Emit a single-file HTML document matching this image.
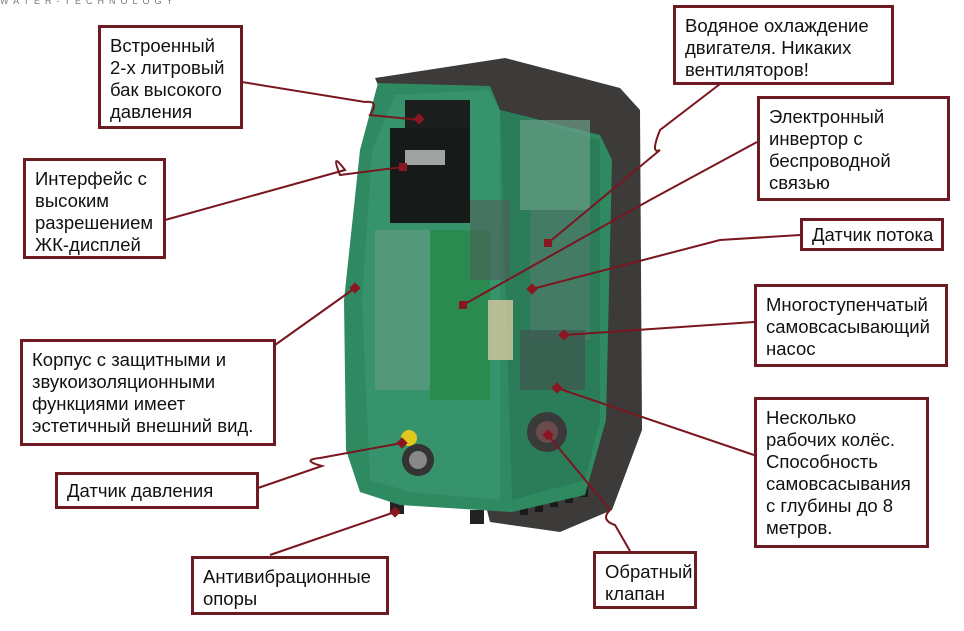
<!DOCTYPE html>
<html><head><meta charset="utf-8"><style>
body{margin:0;width:964px;height:631px;background:#fff;position:relative;overflow:hidden;font-family:"Liberation Sans",sans-serif;}
.b{position:absolute;border:3px solid #6e1a22;background:#fff;box-sizing:border-box;font-size:18.5px;line-height:22px;color:#111;padding:7px 9px;white-space:nowrap;}
svg{position:absolute;left:0;top:0}
</style></head><body>
<svg width="964" height="631">
<text x="0" y="4" font-family="Liberation Sans" font-size="9" fill="#777" letter-spacing="5">WATER-TECHNOLOGY</text>
<polygon points="375,78 505,58 620,88 640,110 642,430 612,510 560,532 490,522 380,90" fill="#3c3b39"/>
<rect x="390" y="500" width="14" height="14" fill="#222"/>
<rect x="470" y="510" width="14" height="14" fill="#222"/>
<g fill="#1a1a1a"><rect x="520" y="490" width="8" height="25"/><rect x="535" y="487" width="8" height="25"/><rect x="550" y="482" width="8" height="25"/><rect x="565" y="478" width="8" height="25"/><rect x="580" y="472" width="8" height="25"/></g>
<polygon points="378,83 490,86 500,110 600,135 612,160 606,420 585,495 512,512 400,505 360,492 346,450 344,300 360,150" fill="#2f8a62"/>
<polygon points="395,95 488,90 500,110 500,500 410,492 370,480 362,300 372,150" fill="#3e9a72" opacity="0.6"/>
<polygon points="500,110 600,140 600,420 585,480 512,500" fill="#2b7d5a"/>
<rect x="520" y="120" width="70" height="90" fill="#6a9e88" opacity="0.7"/>
<rect x="530" y="210" width="60" height="130" fill="#507a6a" opacity="0.7"/>
<rect x="520" y="330" width="65" height="60" fill="#3d5a50" opacity="0.8"/>
<rect x="405" y="100" width="65" height="40" fill="#1b1e1c"/>
<rect x="390" y="128" width="80" height="95" fill="#161a18"/>
<rect x="405" y="150" width="40" height="15" fill="#ddd" opacity="0.7"/>
<rect x="375" y="230" width="60" height="160" fill="#5f9a80" opacity="0.7"/>
<rect x="430" y="230" width="60" height="170" fill="#2a8a50"/>
<rect x="488" y="300" width="25" height="60" fill="#d8c8a0" opacity="0.8"/>
<rect x="470" y="200" width="40" height="80" fill="#555" opacity="0.5"/>
<circle cx="409" cy="438" r="8" fill="#e0c820"/>
<circle cx="418" cy="460" r="16" fill="#333"/><circle cx="418" cy="460" r="9" fill="#888"/>
<circle cx="547" cy="432" r="20" fill="#3a3a3a"/><circle cx="547" cy="432" r="11" fill="#6a4a4a"/>
<g stroke="#7a1620" stroke-width="2" fill="none">
<path d="M242,82 L365,102 Q380,100 370,115 L420,120"/>
<path d="M165,220 L345,170 Q330,150 340,175 L403,167"/>
<path d="M275,345 L355,288"/>
<path d="M258,488 L322,466 Q300,460 320,458 L402,443"/>
<path d="M270,555 L395,512"/>
<path d="M720,84 L660,130 Q650,155 660,150 L548,243"/>
<path d="M757,142 L650,200 L463,305"/>
<path d="M800,235 L720,240 L532,289"/>
<path d="M754,322 L564,335"/>
<path d="M754,455 L557,388"/>
<path d="M630,551 L615,525 Q600,520 610,510 L548,435"/>
</g>
<g fill="#8a1620">
<rect x="415" y="115" width="8" height="8" transform="rotate(45 419 119)"/>
<rect x="399" y="163" width="8" height="8"/>
<rect x="351" y="284" width="8" height="8" transform="rotate(45 355 288)"/>
<rect x="459" y="301" width="8" height="8"/>
<rect x="544" y="239" width="8" height="8"/>
<rect x="528" y="285" width="8" height="8" transform="rotate(45 532 289)"/>
<rect x="560" y="331" width="8" height="8" transform="rotate(45 564 335)"/>
<rect x="553" y="384" width="8" height="8" transform="rotate(45 557 388)"/>
<rect x="544" y="431" width="8" height="8" transform="rotate(45 548 435)"/>
<rect x="398" y="439" width="8" height="8" transform="rotate(45 402 443)"/>
<rect x="391" y="508" width="8" height="8" transform="rotate(45 395 512)"/>
</g>
</svg>
<div class="b" style="left:98px;top:25px;width:145px;height:104px">Встроенный<br>2-х литровый<br>бак высокого<br>давления</div>
<div class="b" style="left:23px;top:158px;width:143px;height:101px">Интерфейс с<br>высоким<br>разрешением<br>ЖК-дисплей</div>
<div class="b" style="left:20px;top:339px;width:256px;height:107px">Корпус с защитными и<br>звукоизоляционными<br>функциями имеет<br>эстетичный внешний вид.</div>
<div class="b" style="left:55px;top:472px;width:204px;height:37px;padding-top:5px">Датчик давления</div>
<div class="b" style="left:191px;top:556px;width:198px;height:59px">Антивибрационные<br>опоры</div>
<div class="b" style="left:673px;top:5px;width:221px;height:80px">Водяное охлаждение<br>двигателя. Никаких<br>вентиляторов!</div>
<div class="b" style="left:757px;top:96px;width:193px;height:105px">Электронный<br>инвертор с<br>беспроводной<br>связью</div>
<div class="b" style="left:800px;top:218px;width:144px;height:33px;padding-top:3px">Датчик потока</div>
<div class="b" style="left:754px;top:284px;width:194px;height:83px">Многоступенчатый<br>самовсасывающий<br>насос</div>
<div class="b" style="left:754px;top:397px;width:175px;height:151px">Несколько<br>рабочих колёс.<br>Способность<br>самовсасывания<br>с глубины до 8<br>метров.</div>
<div class="b" style="left:593px;top:551px;width:104px;height:58px">Обратный<br>клапан</div>
</body></html>
